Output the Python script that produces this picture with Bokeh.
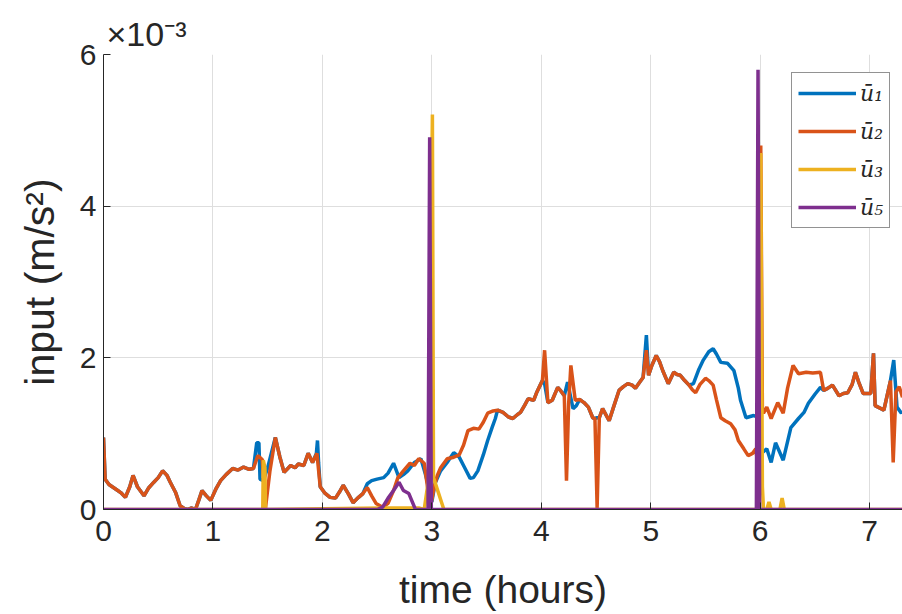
from bokeh.plotting import figure
from bokeh.models import Range1d, FixedTicker, Legend, LegendItem, Title
from bokeh.embed import file_html
from bokeh.resources import INLINE

# time in hours, inputs in units of 1e-3 m/s^2
u2_t = [0.00, 0.015, 0.05, 0.09, 0.13, 0.16, 0.20, 0.24, 0.27, 0.31, 0.37, 0.41, 0.46, 0.50,
        0.54, 0.58, 0.61, 0.66, 0.70, 0.74, 0.77, 0.80, 0.84, 0.87, 0.90, 0.94, 0.98, 1.03,
        1.07, 1.12, 1.18, 1.23, 1.28, 1.33, 1.37, 1.41, 1.45, 1.48, 1.52, 1.57, 1.61, 1.65,
        1.71, 1.75, 1.78, 1.83, 1.87, 1.91, 1.95, 1.98, 2.02, 2.07, 2.12, 2.16, 2.19, 2.24,
        2.28, 2.33, 2.37, 2.41, 2.45, 2.49, 2.55, 2.60, 2.65, 2.69, 2.74, 2.80, 2.84, 2.88,
        2.93, 2.96, 2.99, 3.02, 3.05, 3.08, 3.14, 3.20, 3.25, 3.29, 3.33, 3.38, 3.43, 3.47,
        3.51, 3.56, 3.60, 3.65, 3.70, 3.74, 3.78, 3.81, 3.85, 3.88, 3.93, 3.96, 3.99, 4.01,
        4.03, 4.06, 4.10, 4.15, 4.18, 4.21, 4.23, 4.25, 4.27, 4.31, 4.35, 4.39, 4.43, 4.47,
        4.49, 4.51, 4.53, 4.56, 4.62, 4.66, 4.71, 4.75, 4.79, 4.83, 4.86, 4.90, 4.93, 4.96,
        4.98, 5.01, 5.05, 5.08, 5.11, 5.16, 5.21, 5.24, 5.27, 5.31, 5.35, 5.38, 5.41, 5.45,
        5.50, 5.53, 5.57, 5.60, 5.64, 5.68, 5.73, 5.77, 5.80, 5.85, 5.89, 5.93, 5.96, 5.985,
        6.005, 6.02, 6.03, 6.06, 6.10, 6.16, 6.21, 6.25, 6.30, 6.35, 6.42, 6.48, 6.55, 6.58,
        6.62, 6.66, 6.72, 6.76, 6.80, 6.84, 6.87, 6.90, 6.94, 7.01, 7.035, 7.05, 7.13, 7.19,
        7.215, 7.24, 7.27, 7.30]
u2_v = [0.95, 0.40, 0.33, 0.29, 0.25, 0.22, 0.16, 0.30, 0.45, 0.30, 0.18, 0.28, 0.36, 0.42,
        0.51, 0.45, 0.36, 0.22, 0.05, 0.01, 0.00, 0.02, 0.00, 0.12, 0.25, 0.18, 0.12, 0.28,
        0.38, 0.46, 0.54, 0.52, 0.56, 0.53, 0.54, 0.71, 0.66, 0.02, 0.50, 0.95, 0.70, 0.49,
        0.58, 0.55, 0.60, 0.58, 0.74, 0.62, 0.74, 0.30, 0.22, 0.16, 0.15, 0.24, 0.32, 0.20,
        0.09, 0.16, 0.21, 0.29, 0.18, 0.08, 0.03, 0.08, 0.25, 0.42, 0.51, 0.61, 0.58, 0.67,
        0.61, 0.30, 0.05, 0.29, 0.45, 0.55, 0.67, 0.69, 0.72, 0.85, 1.04, 1.07, 1.06, 1.15,
        1.27, 1.30, 1.31, 1.28, 1.22, 1.20, 1.25, 1.28, 1.38, 1.46, 1.44, 1.55, 1.64, 1.70,
        2.10, 1.41, 1.44, 1.61, 1.56, 1.50, 0.38, 1.40, 1.90, 1.44, 1.45, 1.41, 1.35, 1.21,
        1.20, 0.02, 1.21, 1.33, 1.17, 1.35, 1.57, 1.62, 1.66, 1.64, 1.60, 1.68, 1.74, 2.10,
        1.77, 1.90, 2.03, 1.95, 1.83, 1.66, 1.81, 1.78, 1.77, 1.70, 1.64, 1.58, 1.54, 1.65,
        1.73, 1.70, 1.64, 1.45, 1.21, 1.17, 1.13, 1.05, 0.91, 0.80, 0.71, 0.74, 0.80, 0.50,
        4.80, 1.30, 1.27, 1.35, 1.20, 1.41, 1.27, 1.60, 1.90, 1.79, 1.81, 1.80, 1.81, 1.57,
        1.60, 1.64, 1.50, 1.53, 1.54, 1.65, 1.81, 1.68, 1.53, 1.53, 2.06, 1.37, 1.31, 1.70,
        0.62, 1.55, 1.62, 1.48]

# u1 follows u2 except inside these windows, where its own points apply
u1_windows = [(1.38, 1.56), (1.935, 1.97), (2.38, 3.59), (4.02, 4.04), (4.22, 4.34),
              (4.50, 4.52), (4.95, 4.97), (5.36, 6.57), (7.20, 7.31)]
u1_t = [1.40, 1.42, 1.43, 1.46, 1.50,
        1.945, 1.955, 1.965,
        2.41, 2.45, 2.50, 2.56, 2.60, 2.65, 2.70, 2.74, 2.78, 2.84, 2.90, 2.94, 2.97, 3.00,
        3.03, 3.08, 3.14, 3.20, 3.25, 3.30, 3.35, 3.38, 3.42, 3.47, 3.51, 3.55, 3.58,
        4.03,
        4.24, 4.29, 4.32,
        4.51,
        4.96,
        5.39, 5.44, 5.48, 5.53, 5.57, 5.60, 5.64, 5.70, 5.76, 5.80, 5.82, 5.87, 5.94, 5.97,
        6.00, 6.01, 6.06, 6.10, 6.14, 6.21, 6.28, 6.35, 6.40, 6.44, 6.50, 6.55,
        7.22, 7.25, 7.29, 7.30]
u1_v = [0.88, 0.88, 0.40, 0.38, 0.55,
        0.74, 0.91, 0.62,
        0.34, 0.38, 0.40, 0.42, 0.48, 0.61, 0.42, 0.46, 0.51, 0.62, 0.67, 0.47, 0.30, 0.10,
        0.35, 0.51, 0.62, 0.75, 0.69, 0.55, 0.41, 0.42, 0.51, 0.72, 0.91, 1.08, 1.20,
        1.66,
        1.68, 1.33, 1.37,
        1.21,
        2.30,
        1.66, 1.85, 1.97, 2.08, 2.12, 2.05, 1.94, 1.93, 1.83, 1.60, 1.44, 1.21, 1.24, 1.22,
        0.90, 0.74, 0.80, 0.62, 0.88, 0.65, 1.08, 1.20, 1.28, 1.40, 1.52, 1.61,
        1.97, 1.35, 1.27, 1.30]

u3_t = [0.00, 1.455, 1.46, 1.475, 1.48, 2.55, 2.88, 2.93, 2.97, 3.005, 3.015, 3.11,
        5.99, 6.005, 6.02, 6.03, 6.06, 6.08, 6.10, 6.18, 6.20, 6.22, 7.30]
u3_v = [0.00, 0.00, 0.65, 0.55, 0.00, 0.02, 0.02, 0.00, 0.40, 5.21, 0.42, 0.00,
        0.00, 4.70, 0.30, 0.00, 0.00, 0.10, 0.00, 0.00, 0.15, 0.00, 0.00]

u5_t = [0.00, 2.50, 2.55, 2.60, 2.65, 2.70, 2.74, 2.79, 2.85, 2.965, 2.98, 2.995,
        5.965, 5.98, 5.995, 7.30]
u5_v = [0.00, 0.00, 0.03, 0.15, 0.25, 0.36, 0.25, 0.21, 0.00, 0.00, 4.91, 0.00,
        0.00, 5.80, 0.00, 0.00]

x_ticks = [0, 1, 2, 3, 4, 5, 6, 7]
y_ticks = [0, 2, 4, 6]
labels = ["\u016b\u2081", "\u016b\u2082", "\u016b\u2083", "\u016b\u2085"]
colors = ["#0072BD", "#D95319", "#EDB120", "#7E2F8E"]
exponent_text = "\u00d710\u207b\u00b3"

# build u1 from u2 outside windows + own points
def inside(t):
    return any(a < t < b for a, b in u1_windows)
pairs = [(t, v) for t, v in zip(u2_t, u2_v) if not inside(t)] + list(zip(u1_t, u1_v))
pairs.sort()
u1_full_t = [a for a, _ in pairs]
u1_full_v = [b for _, b in pairs]

FONT = "Liberation Sans"
p = figure(width=902, height=614, output_backend="svg", toolbar_location=None,
           x_range=Range1d(0, 7.30), y_range=Range1d(0, 6),
           min_border_left=103, min_border_right=0, min_border_top=54, min_border_bottom=105)
p.outline_line_color = None
p.background_fill_color = "white"
p.border_fill_color = "white"

series = [(u1_full_t, u1_full_v), (u2_t, u2_v), (u3_t, u3_v), (u5_t, u5_v)]
renderers = []
for (t, v), c in zip(series, colors):
    r = p.line(t, v, line_color=c, line_width=3.5)
    renderers.append(r)

for ax in (p.xaxis[0], p.yaxis[0]):
    ax.axis_line_color = "#262626"
    ax.axis_line_width = 1
    ax.major_tick_in = 7
    ax.major_tick_out = 0
    ax.major_tick_line_color = "#262626"
    ax.minor_tick_line_color = None
    ax.major_label_text_font = FONT
    ax.major_label_text_font_size = "30px"
    ax.major_label_text_color = "#262626"
    ax.axis_label_text_font = FONT
    ax.axis_label_text_font_style = "normal"
    ax.axis_label_text_color = "#262626"

p.xaxis.axis_label_text_font_size = "39px"
p.yaxis.axis_label_text_font_size = "41px"
p.xaxis.ticker = FixedTicker(ticks=x_ticks)
p.yaxis.ticker = FixedTicker(ticks=y_ticks)
p.xaxis.axis_label = "time (hours)"
p.yaxis.axis_label = "input (m/s\u00b2)"
p.xaxis.major_label_standoff = 11
p.yaxis.major_label_standoff = 7
p.xaxis.axis_label_standoff = 24
p.yaxis.axis_label_standoff = 14

p.xgrid.ticker = FixedTicker(ticks=x_ticks)
p.ygrid.ticker = FixedTicker(ticks=y_ticks)
p.grid.grid_line_color = "#dedede"
p.grid.grid_line_width = 1

p.add_layout(Title(text=exponent_text, align="left", offset=3, standoff=4,
                   text_font=FONT, text_font_size="34px", text_font_style="normal",
                   text_color="#262626"), "above")

legend = Legend(items=[LegendItem(label=l, renderers=[r]) for l, r in zip(labels, renderers)],
                location=(688, 281))
legend.border_line_color = "#262626"
legend.border_line_width = 1
legend.background_fill_color = "white"
legend.background_fill_alpha = 1
legend.label_text_font = "DejaVu Serif"
legend.label_text_font_style = "italic"
legend.label_text_font_size = "22px"
legend.label_text_color = "#262626"
legend.glyph_width = 58
legend.glyph_height = 28
legend.label_height = 28
legend.label_standoff = 4
legend.spacing = 10
legend.padding = 6
legend.margin = 0
p.add_layout(legend, "center")

open("out.html", "w").write(file_html(p, INLINE))
